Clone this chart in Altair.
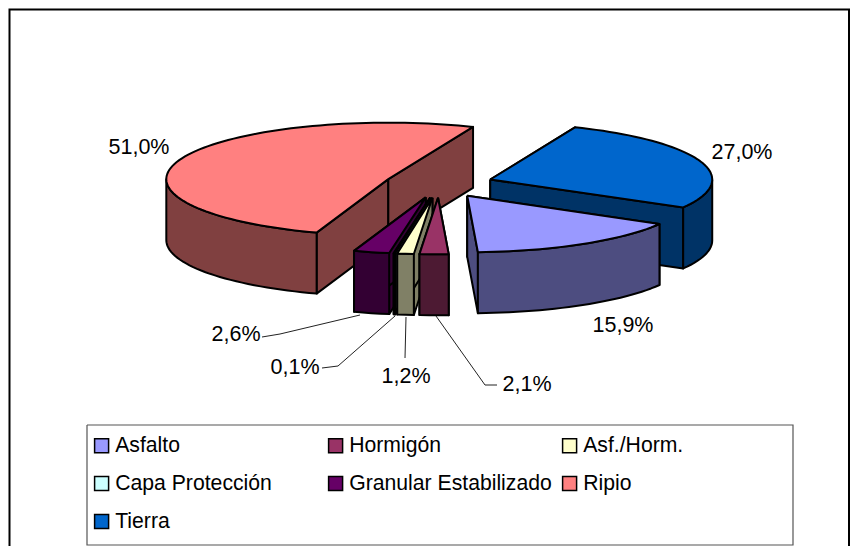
import math
import altair as alt
import pandas as pd

# ---- data ----
categories = ["Asfalto", "Hormigón", "Asf./Horm.", "Capa Protección",
              "Granular Estabilizado", "Ripio", "Tierra"]
shares = [15.9, 2.1, 1.2, 0.1, 2.6, 51.0, 27.0]
top_colors = ["#9999FF", "#993366", "#FFFFCC", "#CCFFFF", "#660066", "#FF8080", "#0066CC"]
side_colors = ["#4D4D80", "#4D1A33", "#808066", "#668080", "#330033", "#804040", "#003366"]
value_labels = ["15,9%", "2,1%", "1,2%", "0,1%", "2,6%", "51,0%", "27,0%"]

# ---- layout of the drawing (reference pixels) ----
W, H = 845, 538
ORIGIN = 8
CX, CY = 439.0, 184.0
RX, RY = 222.0, 56.5
DEPTH = 61.0
EXPLODE = 0.244
FIRST_ANGLE = 120.0
paint_order = [6, 5, 0, 4, 3, 2, 1]   # back to front
label_xy = {0: (623, 326), 1: (527, 385), 2: (406, 377), 3: (295, 368),
            4: (236, 335), 5: (139, 148), 6: (742, 153)}
leaders = [[(262, 337), (280, 334), (360, 315)],
           [(322, 368), (338, 366), (395, 316)],
           [(405, 358), (406, 317)],
           [(497, 385), (485, 385), (436, 316)]]


def ell(a):
    r = math.radians(a)
    return RX * math.sin(r), -RY * math.cos(r)


rows = []
pid = 0


def poly(points, fill):
    global pid
    pts = list(points) + [points[0]]
    for i, (x, y) in enumerate(pts):
        rows.append({"poly": pid, "seq": i, "x": x, "y": y, "fill": fill})
    pid += 1


start_angles = []
a = FIRST_ANGLE
for s in shares:
    start_angles.append(a)
    a += s * 3.6

for k in paint_order:
    a0 = start_angles[k]
    a1 = a0 + shares[k] * 3.6
    mx, my = ell((a0 + a1) / 2)
    ax, ay = CX + EXPLODE * mx, CY + EXPLODE * my
    side, top = side_colors[k], top_colors[k]
    n = max(2, int((a1 - a0) / 2))
    arc = [a0 + (a1 - a0) * i / n for i in range(n + 1)]
    arc_pts = [(ax + ell(t)[0], ay + ell(t)[1]) for t in arc]
    # radial cut faces
    for p in (arc_pts[0], arc_pts[-1]):
        poly([(ax, ay), p, (p[0], p[1] + DEPTH), (ax, ay + DEPTH)], side)
    # visible outer wall, the front half of the rim
    vis = []
    for sh in (0, 360):
        lo, hi = max(a0, 90 + sh), min(a1, 270 + sh)
        if hi > lo:
            m = max(2, int((hi - lo) / 2))
            vis = [lo + (hi - lo) * i / m for i in range(m + 1)]
            break
    if vis:
        upper = [(ax + ell(t)[0], ay + ell(t)[1]) for t in vis]
        lower = [(x, y + DEPTH) for x, y in reversed(upper)]
        poly(upper + lower, side)
    poly([(ax, ay)] + arc_pts, top)

polys = pd.DataFrame(rows)

xs = alt.Scale(domain=[ORIGIN, ORIGIN + W], nice=False, zero=False)
ys = alt.Scale(domain=[ORIGIN + H, ORIGIN], nice=False, zero=False)
X = alt.X("x:Q", scale=xs, axis=None)
Y = alt.Y("y:Q", scale=ys, axis=None)

frame = alt.Chart(pd.DataFrame({
    "f": [0] * 4, "seq": [0, 1, 2, 3],
    "x": [9.5, 9.5, 849, 849], "y": [600, 9.5, 9.5, 600]})
).mark_line(stroke="black", strokeWidth=2, clip=True).encode(x=X, y=Y, order="seq:Q", detail="f:N")

legend_box = alt.Chart(pd.DataFrame({
    "f": [0] * 5, "seq": [0, 1, 2, 3, 4],
    "x": [87, 793, 793, 87, 87], "y": [425, 425, 545, 545, 425]})
).mark_line(stroke="#555555", strokeWidth=1.2).encode(x=X, y=Y, order="seq:Q", detail="f:N")

pie = alt.Chart(polys).mark_line(stroke="black", strokeWidth=2, strokeJoin="round").encode(
    x=X, y=Y, order="seq:Q", detail="poly:N",
    fill=alt.Fill("fill:N", scale=None, legend=None))

lead_rows = [{"l": i, "seq": j, "x": p[0], "y": p[1]}
             for i, l in enumerate(leaders) for j, p in enumerate(l)]
lead = alt.Chart(pd.DataFrame(lead_rows)).mark_line(stroke="#222222", strokeWidth=1).encode(
    x=X, y=Y, order="seq:Q", detail="l:N")

labels = pd.DataFrame({"t": value_labels,
                       "x": [label_xy[i][0] for i in range(7)],
                       "y": [label_xy[i][1] for i in range(7)]})
text = alt.Chart(labels).mark_text(font="Liberation Sans", fontSize=21.5, color="black",
                                   align="center", baseline="middle").encode(x=X, y=Y, text="t:N")

legend_df = pd.DataFrame({"cat": categories})
legend_layer = alt.Chart(legend_df).mark_point(filled=True, size=0).encode(
    x=alt.value(0), y=alt.value(0),
    color=alt.Color("cat:N",
                    scale=alt.Scale(domain=categories, range=top_colors),
                    legend=alt.Legend(
                        title=None, orient="none", legendX=86 - ORIGIN, legendY=430 - ORIGIN,
                        direction="horizontal",
                        columns=3, columnPadding=7, rowPadding=16, padding=5, gridAlign="all",
                        symbolType="square", symbolSize=196, symbolStrokeColor="black",
                        symbolStrokeWidth=1.5, symbolOpacity=1, labelOpacity=1,
                        labelFont="Liberation Sans", labelFontSize=21.2, labelColor="black",
                        labelLimit=400, labelOffset=3)))

chart = alt.layer(frame, legend_box, pie, lead, text, legend_layer).properties(
    width=W, height=H, padding=0, autosize=alt.AutoSizeParams(type="none"), background="white"
).configure_view(stroke=None)

chart.save("out.html", embed_options={"renderer": "svg", "actions": False})
